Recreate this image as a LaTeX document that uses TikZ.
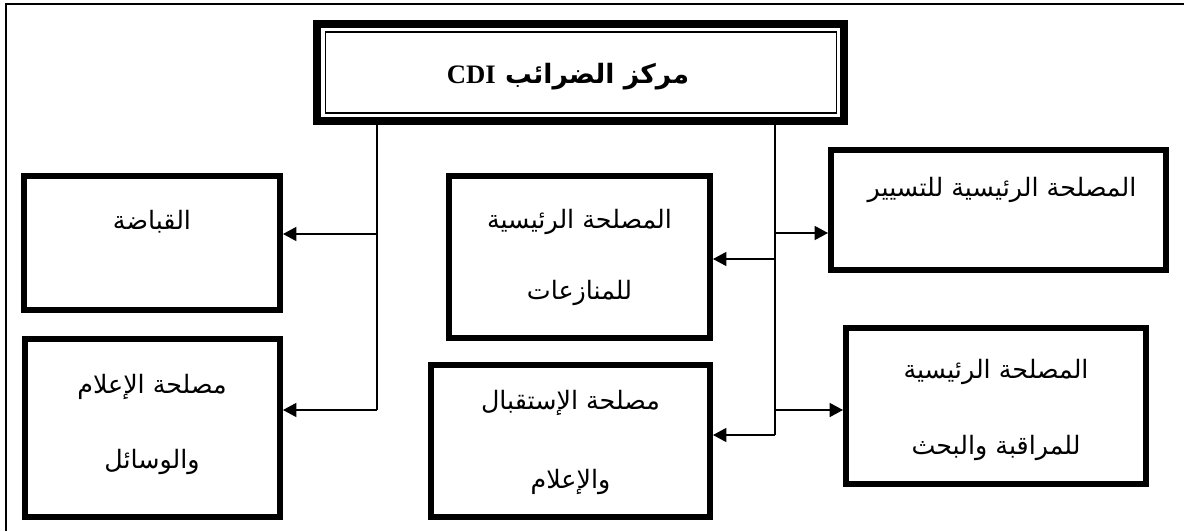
\documentclass[tikz,border=0pt]{standalone}
\usepackage{fontspec}
\setmainfont{Liberation Serif}
\newfontfamily\arabicfont[Script=Arabic]{DejaVu Sans}
\TeXXeTstate=1
\usetikzlibrary{arrows.meta}
\begin{document}
\begin{tikzpicture}[x=0.75pt,y=-0.75pt,
  box/.style={draw, line width=4.5pt, inner sep=0pt, outer sep=2.25pt},
  txt/.style={inner sep=0pt, font=\arabicfont\fontsize{19}{22}\selectfont},
  conn/.style={line width=1.1pt},
  arr/.style={conn, -{Triangle[length=10pt,width=10.5pt]}}]
\useasboundingbox (0,0) rectangle (1184,531);
% outer frame
\draw[line width=1pt] (6,531) -- (6,4) -- (1184,4);
% top box
\node[draw, line width=6pt, inner sep=0pt, outer sep=3pt, minimum width=395.25pt, minimum height=72.75pt] (top) at (580.5,72.5) {};
\node[draw, line width=1.2pt, inner sep=0pt, minimum width=383.25pt, minimum height=60.75pt] (topin) at (581,72.5) {};
\node[inner sep=0pt] (toptxt) at (568,77) {\fontsize{20}{24}\selectfont\bfseries\beginR\arabicfont مركز الضرائب \rmfamily\bfseries\beginL CDI\endL\endR};
% boxes
\node[box, minimum width=192pt, minimum height=100.5pt] (qabada) at (152,243) {};
\node[box, minimum width=191.25pt, minimum height=133.5pt] (ilam) at (152.5,428) {};
\node[box, minimum width=195.75pt, minimum height=121.5pt] (munaz) at (579.5,257) {};
\node[box, minimum width=209.25pt, minimum height=114pt] (istiq) at (570.5,441) {};
\node[box, minimum width=251.25pt, minimum height=90pt] (tasyir) at (998.5,210) {};
\node[box, minimum width=225pt, minimum height=117pt] (muraq) at (996,406) {};
% texts
\node[txt] (t1) at (152,222) {\beginR القباضة\endR};
\node[txt] (t2) at (152,387) {\beginR مصلحة الإعلام\endR};
\node[txt] (t3) at (152,462) {\beginR والوسائل\endR};
\node[txt] (t4) at (579.5,222) {\beginR المصلحة الرئيسية\endR};
\node[txt] (t5) at (579.5,293) {\beginR للمنازعات\endR};
\node[txt] (t6) at (570.5,403) {\beginR مصلحة الإستقبال\endR};
\node[txt] (t7) at (570.5,482) {\beginR والإعلام\endR};
\node[txt] (t8) at (1002,190) {\beginR المصلحة الرئيسية للتسيير\endR};
\node[txt] (t9) at (996,372) {\beginR المصلحة الرئيسية\endR};
\node[txt] (t10) at (996,448) {\beginR للمراقبة والبحث\endR};
% connector coordinates
\coordinate (l1) at (377,234);
\coordinate (l2) at (377,410);
\coordinate (c1) at (775,233);
\coordinate (c2) at (775,259);
\coordinate (c3) at (775,410);
\coordinate (c4) at (775,435);
% left trunk
\draw[conn] (top.south -| l1) -- (l2);
\draw[arr] (l1) -- (l1 -| qabada.east);
\draw[arr] (l2) -- (l2 -| ilam.east);
% centre trunk
\draw[conn] (top.south -| c1) -- (c4);
\draw[arr] (c1) -- (c1 -| tasyir.west);
\draw[arr] (c2) -- (c2 -| munaz.east);
\draw[arr] (c3) -- (c3 -| muraq.west);
\draw[arr] (c4) -- (c4 -| istiq.east);
\end{tikzpicture}
\end{document}
